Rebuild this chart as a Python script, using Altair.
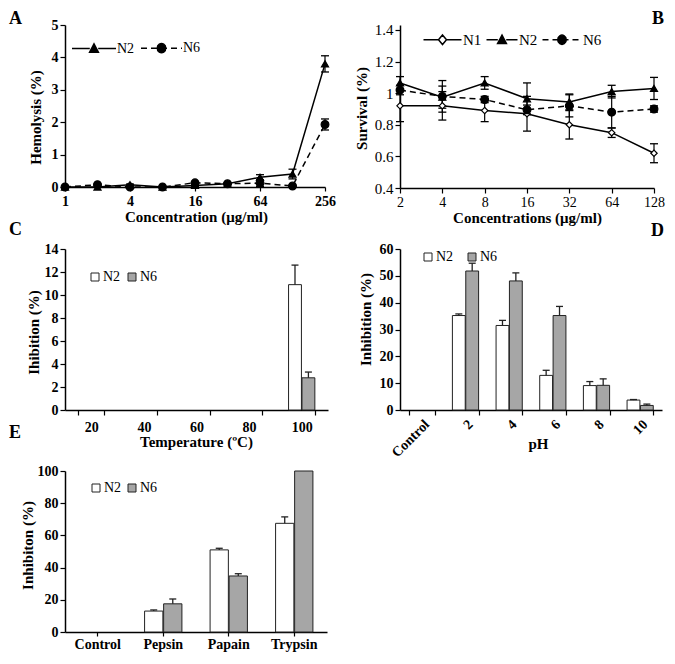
import altair as alt
import pandas as pd

FONT = "Liberation Serif"

# ---------------- data ----------------
# Panel A: hemolysis
a_conc = [1, 2, 4, 8, 16, 32, 64, 128, 256]
a_n2 = [0.0, 0.0, 0.07, 0.0, 0.05, 0.10, 0.30, 0.40, 3.80]
a_n2_err = [0, 0, 0.02, 0, 0.03, 0.02, 0.08, 0.15, 0.25]
a_n6 = [0.0, 0.07, 0.0, 0.0, 0.13, 0.10, 0.12, 0.03, 1.93]
a_n6_err = [0, 0.02, 0, 0, 0.04, 0.02, 0.10, 0.02, 0.17]

# Panel B: survival
b_conc = [2, 4, 8, 16, 32, 64, 128]
b_n1 = [0.92, 0.92, 0.89, 0.87, 0.80, 0.75, 0.62]
b_n1_err = [0.10, 0.09, 0.07, 0.11, 0.09, 0.03, 0.06]
b_n2 = [1.065, 0.975, 1.065, 0.965, 0.945, 1.01, 1.03]
b_n2_err = [0.04, 0.07, 0.04, 0.10, 0.05, 0.04, 0.07]
b_n6 = [1.02, 0.98, 0.96, 0.895, 0.92, 0.88, 0.90]
b_n6_err = [0.03, 0.10, 0.02, 0.03, 0.07, 0.10, 0.02]

# Panel C: temperature
c_temp = ["20", "40", "60", "80", "100"]
c_n2 = [0, 0, 0, 0, 10.9]
c_n2_err = [0, 0, 0, 0, 1.7]
c_n6 = [0, 0, 0, 0, 2.8]
c_n6_err = [0, 0, 0, 0, 0.5]

# Panel D: pH
d_ph = ["Control", "2", "4", "6", "8", "10"]
d_n2 = [0, 35.2, 31.5, 12.9, 9.1, 3.7]
d_n2_err = [0, 0.6, 1.9, 1.9, 1.5, 0.2]
d_n6 = [0, 51.8, 48.1, 35.2, 9.2, 1.7]
d_n6_err = [0, 2.9, 3.0, 3.4, 2.4, 0.5]

# Panel E: enzymes
e_enz = ["Control", "Pepsin", "Papain", "Trypsin"]
e_n2 = [0, 13.0, 51.0, 67.5]
e_n2_err = [0, 0.7, 1.0, 4.0]
e_n6 = [0, 17.5, 34.8, 100.0]
e_n6_err = [0, 3.0, 1.4, 0]

BAR_SERIES = ["N2", "N6"]
BAR_FILLS = ["white", "#a6a6a6"]


def line_df(xs, series):
    rows = []
    for name, (vals, errs) in series.items():
        for x, v, e in zip(xs, vals, errs):
            rows.append(dict(x=x, series=name, value=v, err=e, lo=v - e, hi=v + e))
    return pd.DataFrame(rows)


def bar_df(cats, series):
    rows = []
    for name, (vals, errs) in series.items():
        for c, v, e in zip(cats, vals, errs):
            rows.append(dict(cat=c, series=name, value=v, err=e, hi=v + e))
    return pd.DataFrame(rows)


def axis(**kw):
    d = dict(grid=False, domainColor="black", domainWidth=1.5, tickColor="black",
             tickWidth=1.2, tickSize=5, labelFont=FONT, labelFontSize=14,
             labelFontWeight="bold", labelColor="black", labelPadding=2,
             titleFont=FONT, titleFontSize=15, titleFontWeight="bold",
             titleColor="black", labelFlush=False, labelOverlap=False)
    d.update(kw)
    return alt.Axis(**d)


def ytitle(title, tx, ty):
    return dict(title=title, titleX=tx, titleY=ty, titleAngle=270,
                titleAlign="center", titleBaseline="middle")


def xtitle(title, tx, ty):
    return dict(title=title, titleX=tx, titleY=ty, titleAngle=0,
                titleAlign="center", titleBaseline="middle")


def letter_layer(letter, lx, ly, align):
    return alt.Chart(pd.DataFrame({"t": [letter]})).mark_text(
        font=FONT, fontSize=18, fontWeight="bold", color="black",
        align=align, baseline="top").encode(
        text="t:N", x=alt.value(lx), y=alt.value(ly))


# ---- legend symbol paths (line with marker) for line panels ----
def legend_path(marker, length_px, dashed, right_px=7.0):
    # symbol drawn with unit = 4px (symbolSize 64)
    kR = right_px / 4.0
    kL = kR - length_px / 4.0
    kc = (kL + kR) / 2.0
    r = 1.05
    parts = []
    if dashed:
        x = kL
        while x < kR:
            parts.append((x, min(x + 1.5, kR)))
            x += 2.5
    else:
        parts = [(kL, kR)]
    segs = []
    for a, b in parts:
        if b <= kc - r or a >= kc + r:
            segs.append((a, b))
        else:
            if a < kc - r:
                segs.append((a, kc - r))
            if b > kc + r:
                segs.append((kc + r, b))
    p = "".join(f"M{a:.2f},0L{b:.2f},0" for a, b in segs)
    if marker == "triangle":
        p += f"M{kc-1.1:.2f},0.95L{kc+1.1:.2f},0.95L{kc:.2f},-1.15Z"
    elif marker == "circle":
        p += (f"M{kc+r:.2f},0A{r},{r} 0 1,1 {kc-r:.2f},0"
              f"A{r},{r} 0 1,1 {kc+r:.2f},0Z")
    else:
        p += f"M{kc:.2f},-1.2L{kc+1:.2f},0L{kc:.2f},1.2L{kc-1:.2f},0Z"
    return p


def line_panel(df, xenc_fn, yenc_fn, specs, leg, letter, w, h):
    base = alt.Chart(df)
    layers = []
    for s in specs:
        mk = dict(color="black", strokeWidth=1.5)
        if s["dash"]:
            mk["strokeDash"] = s["dash"]
        layers.append(base.transform_filter(alt.datum.series == s["name"])
                      .mark_line(**mk).encode(x=xenc_fn(), y=yenc_fn("value")))
    for s in specs:
        e = base.transform_filter((alt.datum.series == s["name"]) & (alt.datum.err > 0))
        layers.append(e.mark_rule(color="black", strokeWidth=1.2)
                      .encode(x=xenc_fn(), y=yenc_fn("lo"), y2="hi:Q"))
        for f in ["lo", "hi"]:
            layers.append(e.mark_tick(orient="horizontal", color="black", size=8,
                                      thickness=1.3, opacity=1)
                          .encode(x=xenc_fn(), y=yenc_fn(f)))
    for s in specs:
        layers.append(base.transform_filter(alt.datum.series == s["name"])
                      .mark_point(shape=s["shape"], filled=True, fill=s["fill"],
                                  stroke="black", strokeWidth=1.2, size=s["size"],
                                  opacity=1)
                      .encode(x=xenc_fn(), y=yenc_fn("value")))
    names = [s["name"] for s in specs]
    L = alt.Legend(title=None, orient="none", legendX=leg["x"], legendY=leg["y"],
                   direction="horizontal", columns=len(names),
                   columnPadding=leg["cp"], symbolSize=64,
                   symbolStrokeWidth=1.5,
                   labelFont=FONT, labelFontSize=leg["fs"], labelColor="black",
                   labelOffset=1, padding=0)
    legl = alt.Chart(pd.DataFrame({"series": names})).transform_filter("false").mark_point(
        filled=True, strokeWidth=1.5, opacity=1).encode(
        shape=alt.Shape("series:N", scale=alt.Scale(domain=names, range=leg["paths"]), legend=L),
        fill=alt.Fill("series:N", scale=alt.Scale(domain=names, range=[s["fill"] for s in specs]), legend=L),
        stroke=alt.Stroke("series:N", scale=alt.Scale(domain=names, range=["black"] * len(names)), legend=L))
    layers.append(legl)
    layers.append(letter)
    return alt.layer(*layers).properties(width=w, height=h)


def bar_panel(df, cats, pin, pout, xaxis, yscale, yaxis_, leg, letter, w, h):
    bandwidth = w * (1 - pin) / (len(cats) - pin + 2 * pout)
    xenc = lambda: alt.X("cat:N", scale=alt.Scale(domain=cats, paddingInner=pin, paddingOuter=pout), axis=xaxis)
    xo = lambda: alt.XOffset("series:N", scale=alt.Scale(domain=BAR_SERIES, paddingInner=0.04,
                                                         paddingOuter=0, range=[0, bandwidth]))
    Y = lambda f: alt.Y(f"{f}:Q", scale=yscale, axis=yaxis_)
    L = alt.Legend(title=None, orient="none", legendX=leg["x"], legendY=leg["y"],
                   direction="horizontal", columns=2, columnPadding=leg["cp"],
                   symbolType="square", symbolSize=64, symbolStrokeColor="#222",
                   symbolStrokeWidth=1, labelFont=FONT, labelFontSize=14,
                   labelColor="black", labelOffset=1, padding=0)
    base = alt.Chart(df)
    bars = base.transform_filter(alt.datum.value > 0).mark_bar(stroke="#222", strokeWidth=1).encode(
        x=xenc(), xOffset=xo(), y=Y("value"),
        fill=alt.Fill("series:N", scale=alt.Scale(domain=BAR_SERIES, range=BAR_FILLS), legend=L))
    e = base.transform_filter(alt.datum.err > 0)
    rule = e.mark_rule(color="#222", strokeWidth=1.3).encode(x=xenc(), xOffset=xo(), y=Y("value"), y2="hi:Q")
    cap = e.mark_tick(orient="horizontal", color="#222", size=7, thickness=1.3, opacity=1).encode(
        x=xenc(), xOffset=xo(), y=Y("hi"))
    return alt.layer(bars, rule, cap, letter).properties(width=w, height=h)


# ---------------- Panel A ----------------
dfA = line_df(a_conc, {"N2": (a_n2, a_n2_err), "N6": (a_n6, a_n6_err)})
axA_x = axis(values=[1, 4, 16, 64, 256], format="d", tickSize=4, labelPadding=3,
             **xtitle("Concentration (μg/ml)", 131, 29))
axA_y = axis(values=[0, 1, 2, 3, 4, 5], format="d", **ytitle("Hemolysis (%)", -30, 92))
scA_x = alt.Scale(type="log", base=2, domain=[1, 256], nice=False)
scA_y = alt.Scale(domain=[0, 5], nice=False)
specsA = [
    dict(name="N2", dash=None, shape="triangle-up", fill="black", size=50),
    dict(name="N6", dash=[6, 4], shape="circle", fill="black", size=60),
]
legA = dict(x=37, y=16, cp=3, fs=14, paths=[
    legend_path("triangle", 44, False),
    legend_path("circle", 41, True)])
chartA = line_panel(dfA, lambda: alt.X("x:Q", scale=scA_x, axis=axA_x),
                    lambda f: alt.Y(f"{f}:Q", scale=scA_y, axis=axA_y),
                    specsA, legA, letter_layer("A", -56, -15, "left"), 260, 162)

# ---------------- Panel B ----------------
dfB = line_df(b_conc, {"N1": (b_n1, b_n1_err), "N2": (b_n2, b_n2_err), "N6": (b_n6, b_n6_err)})
axB_x = axis(values=b_conc, format="d", labelFontWeight="normal", labelFontSize=14,
             **xtitle("Concentrations (μg/ml)", 127, 29))
axB_y = axis(values=[0.4, 0.6, 0.8, 1.0, 1.2, 1.4], format=".1~f", labelFontWeight="normal",
             labelFontSize=15, **ytitle("Survival (%)", -39, 83))
scB_x = alt.Scale(type="log", base=2, domain=[2, 128], nice=False)
scB_y = alt.Scale(domain=[0.4, 1.4316], nice=False, zero=False)
specsB = [
    dict(name="N1", dash=None, shape="diamond", fill="white", size=40),
    dict(name="N2", dash=None, shape="triangle-up", fill="black", size=50),
    dict(name="N6", dash=[6, 4], shape="circle", fill="black", size=60),
]
legB = dict(x=47, y=7, cp=1, fs=15, paths=[
    legend_path("diamond", 38, False),
    legend_path("triangle", 31, False),
    legend_path("circle", 39, True)])
chartB = line_panel(dfB, lambda: alt.X("x:Q", scale=scB_x, axis=axB_x),
                    lambda f: alt.Y(f"{f}:Q", scale=scB_y, axis=axB_y),
                    specsB, legB, letter_layer("B", 264, -15, "right"), 254, 163)

# ---------------- Panel C ----------------
dfC = bar_df(c_temp, {"N2": (c_n2, c_n2_err), "N6": (c_n6, c_n6_err)})
chartC = bar_panel(
    dfC, c_temp, 0.5, 0.25,
    axis(labelAngle=0, tickBand="extent", labelPadding=5, **xtitle("Temperature (ºC)", 131, 31)),
    alt.Scale(domain=[0, 14], nice=False),
    axis(values=list(range(0, 15, 2)), format="d", **ytitle("Ihibition (%)", -32, 83)),
    dict(x=23, y=21, cp=4), letter_layer("C", -56, -28, "left"), 263, 161)

# ---------------- Panel D ----------------
dfD = bar_df(d_ph, {"N2": (d_n2, d_n2_err), "N6": (d_n6, d_n6_err)})
chartD = bar_panel(
    dfD, d_ph, 0.4, 0.2,
    axis(labelAngle=315, tickBand="extent", **xtitle("pH", 138, 33)),
    alt.Scale(domain=[0, 60], nice=False),
    axis(values=list(range(0, 61, 10)), format="d", **ytitle("Inhibition (%)", -35, 70)),
    dict(x=21, y=1, cp=11), letter_layer("D", 264, -27, "right"), 262, 161)

# ---------------- Panel E ----------------
dfE = bar_df(e_enz, {"N2": (e_n2, e_n2_err), "N6": (e_n6, e_n6_err)})
chartE = bar_panel(
    dfE, e_enz, 0.43, 0.215,
    axis(labelAngle=0, title=None, tickSize=4, labelPadding=1),
    alt.Scale(domain=[0, 100], nice=False),
    axis(values=list(range(0, 101, 20)), format="d", **ytitle("Inhibiton (%)", -38, 74)),
    dict(x=24, y=10, cp=3), letter_layer("E", -56, -47, "left"), 262, 161)

chart = alt.concat(chartA, chartB, chartC, chartD, chartE, columns=2,
                   spacing={"row": 61, "column": 72}, bounds="flush").resolve_scale(
    fill="independent", shape="independent", stroke="independent", xOffset="independent"
).properties(
    padding={"left": 1, "top": 2, "right": 1, "bottom": 2}, background="white"
).configure_view(stroke=None)

chart.save("out.html", embed_options={"renderer": "svg", "actions": False})
